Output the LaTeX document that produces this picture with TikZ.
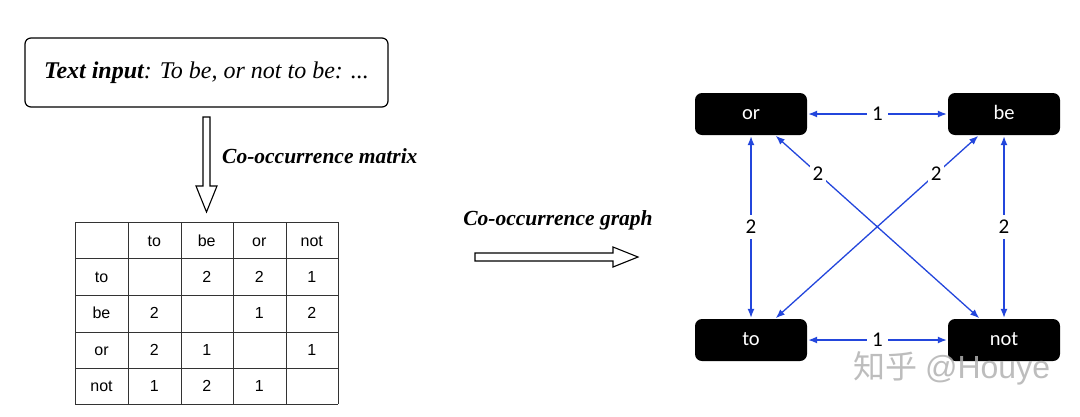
\documentclass[tikz,border=0pt]{standalone}
\usepackage{fontspec}
\setmainfont{Liberation Serif}
\setsansfont{Liberation Sans}
\newfontfamily\calfont{Carlito}
\newfontfamily\cjkfont{Noto Sans CJK SC}
\usetikzlibrary{arrows.meta}
\definecolor{edgeblue}{RGB}{35,70,220}
\tikzset{
  wordbox/.style={fill=black, rounded corners=7pt, minimum width=112pt, minimum height=42pt, inner sep=0pt, text=white, text height=14pt, text depth=4pt, font=\calfont\fontsize{20.5}{22}\selectfont},
  edge/.style={edgeblue, line width=1.3pt, {Latex[length=9pt,width=7pt]}-{Latex[length=9pt,width=7pt]}},
  elabel/.style={fill=white, inner sep=5pt, text=black, font=\calfont\fontsize{21}{23}\selectfont},
  cell/.style={font=\sffamily\fontsize{16}{18}\selectfont, inner sep=0pt, text height=15.5pt, text depth=3.5pt},
  hollow/.style={draw=black, line width=1.1pt, fill=white, line join=miter},
  steplabel/.style={font=\bfseries\itshape\fontsize{21.5}{24}\selectfont, inner sep=0pt}
}
\begin{document}
\begin{tikzpicture}[x=1pt,y=-1pt]
\useasboundingbox (0,0) rectangle (1080,416);
% text input box
\node[draw=black, line width=1.2pt, rounded corners=6pt, minimum width=363pt, minimum height=69pt, inner sep=0pt,
  font=\itshape\fontsize{24}{26}\selectfont] (input) at (206.5,72.5) {\textbf{Text input}: To be, or not to be: ...};
% down hollow arrow
\draw[hollow] (203,117) -- (210,117) -- (210,186) -- (217,186) -- (206.5,212) -- (196,186) -- (203,186) -- cycle;
\node[steplabel, anchor=west] (mlabel) at (222,156) {Co-occurrence matrix};
% table
\foreach \xx in {75,128,181,233,286,338} \draw[line width=0.8pt, black!80] (\xx,222) -- (\xx,404);
\foreach \yy in {222,258,295,332,368,404} \draw[line width=0.8pt, black!80] (75,\yy) -- (338,\yy);
\foreach \t [count=\i] in {to,be,or,not} {
  \node[cell] (h\i) at ({128+52.5*\i-26.25},240) {\t};
  \node[cell] (r\i) at (101.5,{258+36.5*\i-18.25}) {\t};
}
\foreach \r/\c/\v in {1/2/2,1/3/2,1/4/1, 2/1/2,2/3/1,2/4/2, 3/1/2,3/2/1,3/4/1, 4/1/1,4/2/2,4/3/1}
  \node[cell] (c\r\c) at ({128+52.5*\c-26.25},{258+36.5*\r-18.25}) {\v};
% right hollow arrow
\draw[hollow] (475,253) -- (613,253) -- (613,247) -- (638,257) -- (613,267) -- (613,261) -- (475,261) -- cycle;
\node[steplabel] (glabel) at (558,220) {Co-occurrence graph};
% graph
\node[wordbox] (or) at (751,114) {or};
\node[wordbox] (be) at (1004,114) {be};
\node[wordbox] (to) at (751,340) {to};
\node[wordbox] (not) at (1004,340) {not};
\draw[edge, shorten <=1pt, shorten >=1pt] (or) -- node[elabel] {1} (be);
\draw[edge, shorten <=1pt, shorten >=1pt] (to) -- node[elabel] {1} (not);
\draw[edge, shorten <=1pt, shorten >=1pt] (or) -- node[elabel] {2} (to);
\draw[edge, shorten <=1pt, shorten >=1pt] (be) -- node[elabel] {2} (not);
\draw[edge, shorten <=1pt, shorten >=1pt] ([xshift=24pt]or.south) -- node[elabel, pos=0.21, inner sep=3pt] {2} ([xshift=-24pt]not.north);
\draw[edge, shorten <=1pt, shorten >=1pt] ([xshift=-25pt]be.south) -- node[elabel, pos=0.21, inner sep=3pt] {2} ([xshift=24pt]to.north);
% watermark
\node[text=black!30, opacity=0.85, font=\fontsize{32}{34}\selectfont, inner sep=0pt] (wm) at (952,368) {\cjkfont 知乎 \sffamily @Houye};
\end{tikzpicture}
\end{document}
